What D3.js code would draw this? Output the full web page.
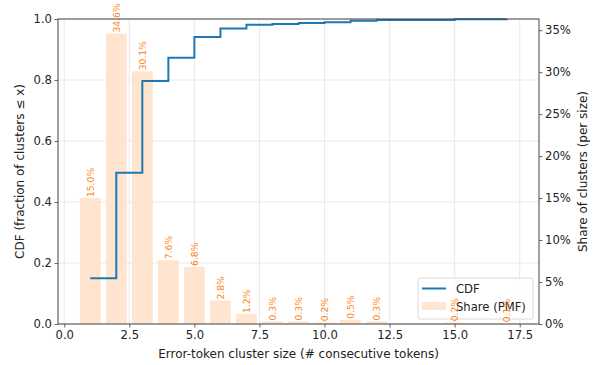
<!DOCTYPE html>
<html>
<head>
<meta charset="utf-8">
<script src="https://cdn.jsdelivr.net/npm/d3@7"></script>
<style>
  body { margin: 0; background: #fff; }
  svg text { font-family: "DejaVu Sans", sans-serif; }
</style>
</head>
<body>
<svg id="chart" width="595" height="365"></svg>
<script>
// cluster sizes and share (%) per size
const sizes = [1, 2, 3, 4, 5, 6, 7, 8, 9, 10, 11, 12, 15, 17];
const shares = [15.0, 34.6, 30.1, 7.6, 6.8, 2.8, 1.2, 0.3, 0.3, 0.2, 0.5, 0.3, 0.2, 0.1];
// cumulative fraction at each size
const cdf = [0.150, 0.496, 0.797, 0.873, 0.941, 0.969, 0.981, 0.984, 0.987, 0.989, 0.994, 0.997, 0.999, 1.0];

const xTicks = [0, 2.5, 5, 7.5, 10, 12.5, 15, 17.5];
const yTicks = [0, 0.2, 0.4, 0.6, 0.8, 1.0];
const y2Ticks = [0, 5, 10, 15, 20, 25, 30, 35];

const svg = d3.select('#chart');
const margin = { top: 19, left: 58, right: 56, bottom: 41 };
const width = 595, height = 365;

const x = d3.scaleLinear().domain([-0.24, 18.24]).range([margin.left, width - margin.right]);
const y = d3.scaleLinear().domain([0, 1]).range([height - margin.bottom, margin.top]);
const y2 = d3.scaleLinear().domain([0, 36.33]).range([height - margin.bottom, margin.top]);

const textColor = '#222';
const orange = '#ff7f0e';
const blue = '#1f77b4';
const fs = '11.6px';
const labelFs = '12px';

// Grid
svg.append('g').selectAll('line.vg').data(xTicks).join('line')
    .attr('x1', d => x(d)).attr('x2', d => x(d))
    .attr('y1', margin.top).attr('y2', height - margin.bottom)
    .attr('stroke', '#e3e3e3').attr('stroke-width', 0.8);
svg.append('g').selectAll('line.hg').data(yTicks).join('line')
    .attr('x1', margin.left).attr('x2', width - margin.right)
    .attr('y1', d => y(d)).attr('y2', d => y(d))
    .attr('stroke', '#e3e3e3').attr('stroke-width', 0.8);

// Legend (sits under the bar labels)
const lg = svg.append('g').attr('transform', 'translate(418, 278)');
lg.append('rect')
    .attr('width', 115).attr('height', 41).attr('rx', 2)
    .attr('fill', 'rgba(255,255,255,0.8)').attr('stroke', '#d0d0d0').attr('stroke-width', 0.8);
lg.append('line')
    .attr('x1', 4).attr('x2', 28).attr('y1', 10.5).attr('y2', 10.5)
    .attr('stroke', blue).attr('stroke-width', 2);
lg.append('text').attr('x', 38).attr('y', 10.5).attr('dy', '0.35em')
    .style('font-size', fs).style('fill', textColor).text('CDF');
lg.append('rect')
    .attr('x', 4).attr('y', 24).attr('width', 24).attr('height', 8)
    .attr('fill', '#ffe5cf');
lg.append('text').attr('x', 38).attr('y', 28.5).attr('dy', '0.35em')
    .style('font-size', fs).style('fill', textColor).text('Share (PMF)');

// Bars (PMF)
const barW = x(0.8) - x(0);
svg.append('g').selectAll('rect').data(sizes).join('rect')
    .attr('x', d => x(d - 0.4))
    .attr('y', (d, i) => y2(shares[i]))
    .attr('width', barW)
    .attr('height', (d, i) => y2(0) - y2(shares[i]))
    .attr('fill', '#ffe5cf');

// Bar labels
svg.append('g').selectAll('text').data(sizes).join('text')
    .attr('transform', (d, i) => `translate(${x(d) + 0.5}, ${y2(shares[i]) - 1}) rotate(-90)`)
    .attr('dy', '0.35em')
    .style('font-size', '9.2px')
    .style('fill', orange)
    .text((d, i) => shares[i].toFixed(1) + '%');

// CDF step line (post)
const stepPts = [];
sizes.forEach((s, i) => {
    if (i > 0) stepPts.push([s, cdf[i - 1]]);
    stepPts.push([s, cdf[i]]);
});
svg.append('path')
    .datum(stepPts)
    .attr('fill', 'none')
    .attr('stroke', blue)
    .attr('stroke-width', 2)
    .attr('d', d3.line().x(d => x(d[0])).y(d => y(d[1])));

// Axes
const xAxis = svg.append('g')
    .attr('transform', `translate(0, ${height - margin.bottom})`)
    .call(d3.axisBottom(x).tickValues(xTicks).tickFormat(d3.format('.1f')).tickSizeOuter(0).tickSize(3.5));
const yAxis = svg.append('g')
    .attr('transform', `translate(${margin.left}, 0)`)
    .call(d3.axisLeft(y).tickValues(yTicks).tickFormat(d3.format('.1f')).tickSizeOuter(0).tickSize(3.5));
const y2Axis = svg.append('g')
    .attr('transform', `translate(${width - margin.right}, 0)`)
    .call(d3.axisRight(y2).tickValues(y2Ticks).tickFormat(d => d + '%').tickSizeOuter(0).tickSize(3.5));

[xAxis, yAxis, y2Axis].forEach(a => {
    a.select('.domain').remove();
    a.selectAll('.tick line').attr('stroke', '#444').attr('stroke-width', 0.8);
    a.selectAll('.tick text').style('font-size', fs).style('fill', textColor)
        .style('font-family', '"DejaVu Sans", sans-serif');
});
xAxis.selectAll('.tick text').attr('y', 6.5);
yAxis.selectAll('.tick text').attr('x', -6);
y2Axis.selectAll('.tick text').attr('x', 6);

// Frame
svg.append('rect')
    .attr('x', margin.left).attr('y', margin.top)
    .attr('width', width - margin.left - margin.right)
    .attr('height', height - margin.top - margin.bottom)
    .attr('fill', 'none').attr('stroke', '#444').attr('stroke-width', 1);

// Axis labels
svg.append('text')
    .attr('x', (margin.left + width - margin.right) / 2)
    .attr('y', 354).attr('dy', '0.35em')
    .attr('text-anchor', 'middle')
    .style('font-size', labelFs).style('fill', textColor)
    .text('Error-token cluster size (# consecutive tokens)');

svg.append('text')
    .attr('transform', `translate(20, ${(margin.top + height - margin.bottom) / 2}) rotate(-90)`)
    .attr('text-anchor', 'middle')
    .attr('dy', '0.35em')
    .style('font-size', labelFs).style('fill', textColor)
    .text('CDF (fraction of clusters ≤ x)');

svg.append('text')
    .attr('transform', `translate(583, ${(margin.top + height - margin.bottom) / 2}) rotate(-90)`)
    .attr('text-anchor', 'middle')
    .attr('dy', '0.35em')
    .style('font-size', labelFs).style('fill', textColor)
    .text('Share of clusters (per size)');
</script>
</body>
</html>
